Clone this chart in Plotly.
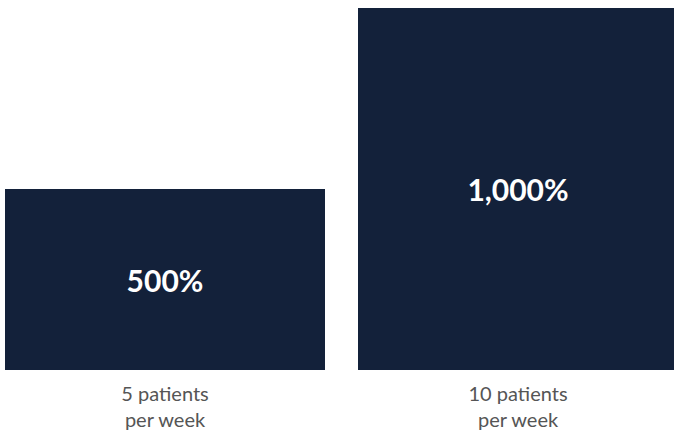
import plotly.graph_objects as go

categories = ["5 patients<br>per week", "10 patients<br>per week"]
values = [500, 1000]
labels = ["500%", "1,000%"]

positions = list(range(len(categories)))

fig = go.Figure(go.Bar(
    x=positions,
    y=values,
    width=0.9065,
    marker=dict(color="#13213a", line=dict(width=0)),
    text=labels,
    textposition="inside",
    insidetextanchor="middle",
    textfont=dict(family="Lato", size=30, color="white", weight="bold"),
    hoverinfo="skip",
))

fig.update_layout(
    width=674, height=441,
    margin=dict(l=0, r=0, t=8, b=71),
    paper_bgcolor="white", plot_bgcolor="white",
    showlegend=False,
    font=dict(family="Lato", color="#555555"),
)
fig.update_xaxes(
    range=[-0.4674, 1.4419],
    tickmode="array", tickvals=positions, ticktext=categories,
    tickfont=dict(family="Lato", size=20, color="#555555"),
    ticklabelstandoff=10,
    showgrid=False, zeroline=False, showline=False, ticks="",
)
fig.update_yaxes(range=[0, 1000], visible=False, showgrid=False, zeroline=False)

fig.write_html(
    "out.html",
    config={"displayModeBar": False},
    post_script="document.body.style.margin='0';document.body.style.overflow='hidden';",
)
